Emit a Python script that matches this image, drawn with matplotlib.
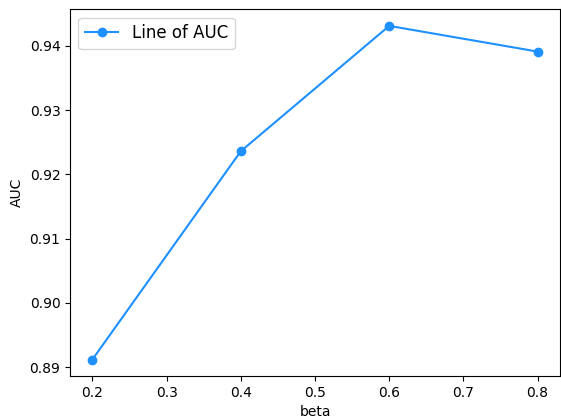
import matplotlib
matplotlib.use('Agg')
import matplotlib.pyplot as plt

beta = [0.2, 0.4, 0.6, 0.8]
auc = [0.8912, 0.9236, 0.9431, 0.9391]

fig, ax = plt.subplots(figsize=(5.61, 4.18), dpi=100)
ax.plot(beta, auc, marker='o', color='dodgerblue', label='Line of AUC')
ax.set_xlabel('beta')
ax.set_ylabel('AUC')
ax.legend(loc='upper left', fontsize=12)
fig.subplots_adjust(left=0.125, right=0.998, top=0.978, bottom=0.100)
fig.savefig('out.png', dpi=100)
